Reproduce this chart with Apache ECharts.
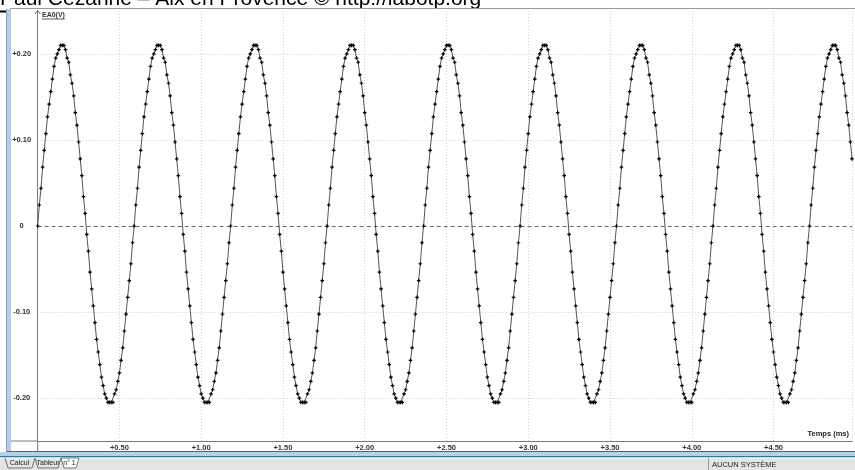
<!DOCTYPE html>
<html><head><meta charset="utf-8">
<script src="https://cdn.jsdelivr.net/npm/echarts@6/dist/echarts.min.js"></script>
<style>html,body{margin:0;padding:0;background:#fff}#c{width:855px;height:470px}</style>
</head><body><div id="c"></div>
<script>
// Sampling step of the acquisition (ms between points)
const sampleStepMs = 0.01;
// EA0 (V) samples
const ea0Volts = [
0,0.0244,0.0439,0.0684,0.0879,0.1074,0.127,0.1416,0.1563,0.1709,0.1855,0.1953,0.2002,0.2051,0.21,0.21,0.21,0.2051,0.1953,0.1904,0.1758,0.166,0.1514,0.1318,0.1172,0.0977,0.0781,0.0586,0.0342,0.0146,-0.0098,-0.0293,-0.0537,-0.0732,-0.0928,-0.1123,-0.1318,-0.1465,-0.1611,-0.1758,-0.1855,-0.1953,-0.2002,-0.2051,-0.2051,-0.2051,-0.2051,-0.1953,-0.1904,-0.1807,-0.1709,-0.1563,-0.1416,-0.1221,-0.1025,-0.083,-0.0635,-0.0439,-0.0195,
0,0.0244,0.0439,0.0684,0.0879,0.1074,0.127,0.1416,0.1563,0.1709,0.1855,0.1953,0.2002,0.2051,0.21,0.21,0.21,0.2051,0.1953,0.1904,0.1758,0.166,0.1514,0.1318,0.1172,0.0977,0.0781,0.0586,0.0342,0.0146,-0.0098,-0.0293,-0.0537,-0.0732,-0.0928,-0.1123,-0.1318,-0.1465,-0.1611,-0.1758,-0.1855,-0.1953,-0.2002,-0.2051,-0.2051,-0.2051,-0.2051,-0.1953,-0.1904,-0.1807,-0.1709,-0.1563,-0.1416,-0.1221,-0.1025,-0.083,-0.0635,-0.0439,-0.0195,
0,0.0244,0.0439,0.0684,0.0879,0.1074,0.127,0.1416,0.1563,0.1709,0.1855,0.1953,0.2002,0.2051,0.21,0.21,0.21,0.2051,0.1953,0.1904,0.1758,0.166,0.1514,0.1318,0.1172,0.0977,0.0781,0.0586,0.0342,0.0146,-0.0098,-0.0293,-0.0537,-0.0732,-0.0928,-0.1123,-0.1318,-0.1465,-0.1611,-0.1758,-0.1855,-0.1953,-0.2002,-0.2051,-0.2051,-0.2051,-0.2051,-0.1953,-0.1904,-0.1807,-0.1709,-0.1563,-0.1416,-0.1221,-0.1025,-0.083,-0.0635,-0.0439,-0.0195,
0,0.0244,0.0439,0.0684,0.0879,0.1074,0.127,0.1416,0.1563,0.1709,0.1855,0.1953,0.2002,0.2051,0.21,0.21,0.21,0.2051,0.1953,0.1904,0.1758,0.166,0.1514,0.1318,0.1172,0.0977,0.0781,0.0586,0.0342,0.0146,-0.0098,-0.0293,-0.0537,-0.0732,-0.0928,-0.1123,-0.1318,-0.1465,-0.1611,-0.1758,-0.1855,-0.1953,-0.2002,-0.2051,-0.2051,-0.2051,-0.2051,-0.1953,-0.1904,-0.1807,-0.1709,-0.1563,-0.1416,-0.1221,-0.1025,-0.083,-0.0635,-0.0439,-0.0195,
0,0.0244,0.0439,0.0684,0.0879,0.1074,0.127,0.1416,0.1563,0.1709,0.1855,0.1953,0.2002,0.2051,0.21,0.21,0.21,0.2051,0.1953,0.1904,0.1758,0.166,0.1514,0.1318,0.1172,0.0977,0.0781,0.0586,0.0342,0.0146,-0.0098,-0.0293,-0.0537,-0.0732,-0.0928,-0.1123,-0.1318,-0.1465,-0.1611,-0.1758,-0.1855,-0.1953,-0.2002,-0.2051,-0.2051,-0.2051,-0.2051,-0.1953,-0.1904,-0.1807,-0.1709,-0.1563,-0.1416,-0.1221,-0.1025,-0.083,-0.0635,-0.0439,-0.0195,
0,0.0244,0.0439,0.0684,0.0879,0.1074,0.127,0.1416,0.1563,0.1709,0.1855,0.1953,0.2002,0.2051,0.21,0.21,0.21,0.2051,0.1953,0.1904,0.1758,0.166,0.1514,0.1318,0.1172,0.0977,0.0781,0.0586,0.0342,0.0146,-0.0098,-0.0293,-0.0537,-0.0732,-0.0928,-0.1123,-0.1318,-0.1465,-0.1611,-0.1758,-0.1855,-0.1953,-0.2002,-0.2051,-0.2051,-0.2051,-0.2051,-0.1953,-0.1904,-0.1807,-0.1709,-0.1563,-0.1416,-0.1221,-0.1025,-0.083,-0.0635,-0.0439,-0.0195,
0,0.0244,0.0439,0.0684,0.0879,0.1074,0.127,0.1416,0.1563,0.1709,0.1855,0.1953,0.2002,0.2051,0.21,0.21,0.21,0.2051,0.1953,0.1904,0.1758,0.166,0.1514,0.1318,0.1172,0.0977,0.0781,0.0586,0.0342,0.0146,-0.0098,-0.0293,-0.0537,-0.0732,-0.0928,-0.1123,-0.1318,-0.1465,-0.1611,-0.1758,-0.1855,-0.1953,-0.2002,-0.2051,-0.2051,-0.2051,-0.2051,-0.1953,-0.1904,-0.1807,-0.1709,-0.1563,-0.1416,-0.1221,-0.1025,-0.083,-0.0635,-0.0439,-0.0195,
0,0.0244,0.0439,0.0684,0.0879,0.1074,0.127,0.1416,0.1563,0.1709,0.1855,0.1953,0.2002,0.2051,0.21,0.21,0.21,0.2051,0.1953,0.1904,0.1758,0.166,0.1514,0.1318,0.1172,0.0977,0.0781,0.0586,0.0342,0.0146,-0.0098,-0.0293,-0.0537,-0.0732,-0.0928,-0.1123,-0.1318,-0.1465,-0.1611,-0.1758,-0.1855,-0.1953,-0.2002,-0.2051,-0.2051,-0.2051,-0.2051,-0.1953,-0.1904,-0.1807,-0.1709,-0.1563,-0.1416,-0.1221,-0.1025,-0.083,-0.0635,-0.0439,-0.0195,
0,0.0244,0.0439,0.0684,0.0879,0.1074,0.127,0.1416,0.1563,0.1709,0.1855,0.1953,0.2002,0.2051,0.21,0.21,0.21,0.2051,0.1953,0.1904,0.1758,0.166,0.1514,0.1318,0.1172,0.0977,0.0781
];
// Axis ticks / labels
const xLabelValues = [0.5, 1, 1.5, 2, 2.5, 3, 3.5, 4, 4.5];
const yLabelValues = [-0.2, -0.1, 0, 0.1, 0.2];
const yGridValues = [-0.2, -0.1, 0.1, 0.2];
const zeroLineValue = [0];
const xAxisTitle = 'Temps (ms)';
const yAxisTitle = 'EA0(V)';
const headerText = 'Paul Cézanne – Aix en Provence © http://labotp.org';
const tabNames = ['Calcul', 'Tableur', 'n° 1'];
const statusText = 'AUCUN SYSTÈME';

const FONT = 'Liberation Sans, Arial, sans-serif';
const seriesData = ea0Volts.map((v, i) => [+(i * sampleStepMs).toFixed(2), v]);
const near = (arr, v) => arr.find(t => Math.abs(t - v) < 1e-9);

const chart = echarts.init(document.getElementById('c'), null, {renderer: 'canvas'});

const graphics = [
  // header text (cut at top)
  {type: 'text', x: 0, y: 9.5, z: 9, style: {text: headerText, font: '21px ' + FONT, fill: '#000', verticalAlign: 'bottom'}},
  {type: 'line', z: 10, shape: {x1: 10, y1: 8.5, x2: 855, y2: 8.5}, style: {stroke: '#9a9a9a', lineWidth: 1}},
  {type: 'rect', z: 10, shape: {x: 0, y: 10.5, width: 6, height: 2}, style: {fill: '#000'}},
  // left frame strip
  {type: 'line', z: 10, shape: {x1: 6.5, y1: 9, x2: 6.5, y2: 452}, style: {stroke: '#8d9fb6', lineWidth: 1}},
  {type: 'rect', z: 10, shape: {x: 7, y: 9, width: 4, height: 443}, style: {fill: '#b5cce8'}},
  // axis extensions
  {type: 'line', z: 10, shape: {x1: 11, y1: 441, x2: 38, y2: 441}, style: {stroke: '#7a7a7a', lineWidth: 1}},
  {type: 'line', z: 10, shape: {x1: 37.7, y1: 441, x2: 37.7, y2: 452}, style: {stroke: '#7a7a7a', lineWidth: 1}},
  // y axis arrow + title
  {type: 'polyline', z: 10, shape: {points: [[35, 14], [37.7, 10.5], [40.4, 14]]}, style: {stroke: '#666', lineWidth: 1, fill: null}},
  {type: 'text', z: 10, x: 42, y: 11.5, style: {text: yAxisTitle, font: 'bold 7px ' + FONT, fill: '#333'}},
  {type: 'line', z: 10, shape: {x1: 42, y1: 19, x2: 65, y2: 19}, style: {stroke: '#333', lineWidth: 0.8}},
  // x axis title
  {type: 'text', z: 10, x: 849, y: 430, style: {text: xAxisTitle, font: 'bold 7.5px ' + FONT, fill: '#222', align: 'right'}},
  // bottom frame
  {type: 'line', z: 10, shape: {x1: 7, y1: 451.5, x2: 855, y2: 451.5}, style: {stroke: '#5f5f5f', lineWidth: 1}},
  {type: 'rect', z: 10, shape: {x: 0, y: 452, width: 855, height: 4}, style: {fill: '#b9d0ea'}},
  {type: 'line', z: 10, shape: {x1: 0, y1: 456.7, x2: 855, y2: 456.7}, style: {stroke: '#2b7c8c', lineWidth: 1.4}},
  {type: 'rect', z: 10, shape: {x: 0, y: 458, width: 855, height: 12}, style: {fill: '#e4e4e4'}},
  {type: 'line', z: 10, shape: {x1: 0, y1: 458, x2: 855, y2: 458}, style: {stroke: '#fafafa', lineWidth: 1}},
  // tabs
  {type: 'polygon', z: 11, shape: {points: [[61, 458], [64, 468], [76, 468], [79, 458]]}, style: {fill: '#fff', stroke: '#555', lineWidth: 0.8}},
  {type: 'polyline', z: 11, shape: {points: [[5, 458], [8, 468], [32, 468], [35, 458]]}, style: {fill: null, stroke: '#555', lineWidth: 0.8}},
  {type: 'polyline', z: 11, shape: {points: [[35, 458], [38, 468], [58, 468], [61, 458]]}, style: {fill: null, stroke: '#555', lineWidth: 0.8}},
  {type: 'text', z: 12, x: 19.5, y: 460, style: {text: tabNames[0], font: '7px ' + FONT, fill: '#222', align: 'center'}},
  {type: 'text', z: 12, x: 48, y: 460, style: {text: tabNames[1], font: '7px ' + FONT, fill: '#222', align: 'center'}},
  {type: 'text', z: 12, x: 69.5, y: 460, style: {text: tabNames[2], font: '7px ' + FONT, fill: '#222', align: 'center'}},
  // status
  {type: 'line', z: 11, shape: {x1: 708.5, y1: 458, x2: 708.5, y2: 470}, style: {stroke: '#9a9a9a', lineWidth: 1}},
  {type: 'text', z: 12, x: 712, y: 461, style: {text: statusText, font: '7.5px ' + FONT, fill: '#222'}}
];

chart.setOption({
  animation: false,
  backgroundColor: '#fff',
  grid: {left: 37.7, right: 0, top: 11, height: 430},
  xAxis: {
    type: 'value', min: 0, max: 4.98, interval: 0.5,
    axisLine: {show: true, onZero: false, lineStyle: {color: '#7a7a7a', width: 1}},
    axisTick: {show: false},
    axisLabel: {
      color: '#333', fontSize: 7.5, fontWeight: 'bold', fontFamily: FONT, margin: 3,
      formatter: v => { const m = near(xLabelValues, v); return m === undefined ? '' : '+' + m.toFixed(2); }
    },
    splitLine: {show: true, lineStyle: {color: '#cdcdcd', type: [1, 2], width: 1}}
  },
  yAxis: {
    type: 'value', min: -0.25, max: 0.25, interval: 0.05,
    axisLine: {show: true, onZero: false, lineStyle: {color: '#7a7a7a', width: 1}},
    axisTick: {show: false},
    splitLine: {show: false},
    axisLabel: {
      color: '#333', fontSize: 7.5, fontWeight: 'bold', fontFamily: FONT, margin: 16, align: 'center',
      formatter: v => { const m = near(yLabelValues, v); if (m === undefined) return ''; return m === 0 ? '0' : (m > 0 ? '+' : '') + m.toFixed(2); }
    }
  },
  series: [{
    type: 'line',
    data: seriesData,
    symbol: 'path://M1,0H2V1H3V2H2V3H1V2H0V1H1Z',
    symbolSize: 3.6,
    itemStyle: {color: '#000'},
    lineStyle: {color: '#555', width: 1},
    z: 3,
    silent: true,
    markLine: {
      silent: true, symbol: 'none', z: 1, animation: false, label: {show: false},
      data: [
        ...yGridValues.map(v => ({yAxis: v, lineStyle: {color: '#cdcdcd', type: [1, 2], width: 1}})),
        ...zeroLineValue.map(v => ({yAxis: v, lineStyle: {color: '#6a6a6a', type: [4, 3], width: 1}}))
      ]
    }
  }],
  graphic: graphics
});
</script></body></html>
